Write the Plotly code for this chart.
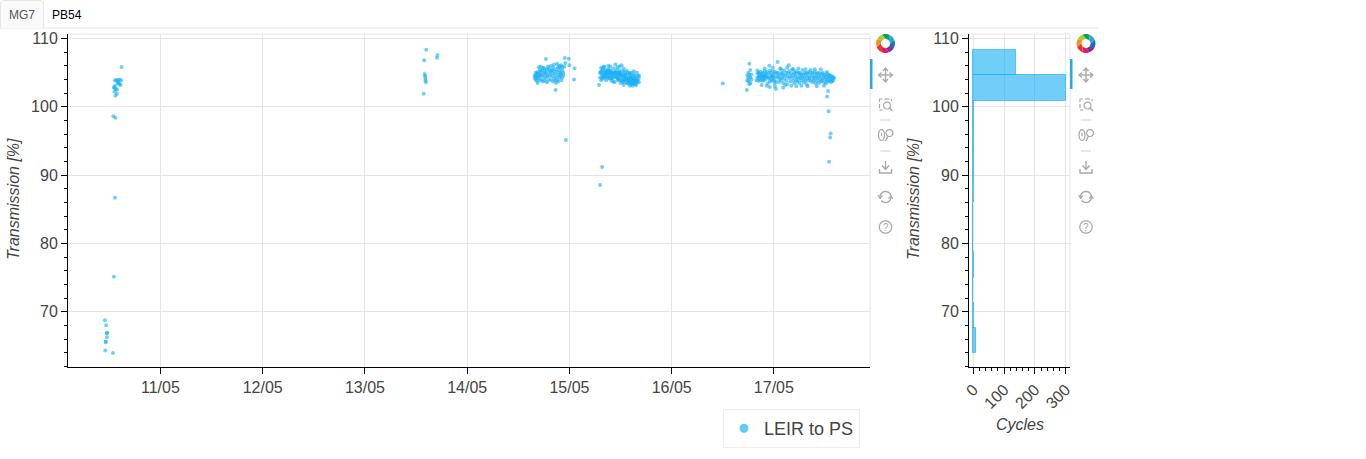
import numpy as np
import pandas as pd
import plotly.graph_objects as go

W, H = 1366, 459
BLUE = "#12ADF5"
FONT = "Liberation Sans"

# May day-of-month (fractional) and transmission [%]
early_days = [10.457,10.47,10.477,10.477,10.477,10.465,10.465,10.46,10.535,10.545,10.555,
              10.54,10.56,10.56,10.575,10.55,10.55,10.565,10.575,10.545,10.56,10.61,10.58,10.60,
              10.59,10.555,10.57,10.585,10.60,10.615,10.62]
early_pct = [68.74,68.0,66.9,66.85,66.25,65.6,65.55,64.3,63.95,75.1,86.7,
             98.6,98.4,101.6,101.9,102.2,102.7,102.6,102.5,102.9,103.1,103.2,103.6,103.3,
             103.5,103.9,103.9,103.9,103.95,103.9,105.83]
second_days = [13.60,13.58,13.585,13.588,13.59,13.593,13.596,13.575,13.71,13.705]
second_pct = [108.36,106.8,104.8,104.5,104.2,103.9,103.6,101.9,107.6,107.2]
third_days = [
 14.66,14.66,14.67,14.67,14.67,14.68,14.68,14.68,14.69,14.69,
 14.69,14.70,14.70,14.70,14.71,14.71,14.71,14.72,14.72,14.72,
 14.73,14.73,14.73,14.74,14.74,14.75,14.75,14.75,14.76,14.76,
 14.76,14.77,14.77,14.78,14.78,14.78,14.79,14.79,14.80,14.80,
 14.80,14.81,14.81,14.82,14.82,14.82,14.83,14.83,14.84,14.84,
 14.84,14.85,14.85,14.85,14.86,14.86,14.87,14.87,14.87,14.88,
 14.88,14.88,14.89,14.89,14.89,14.90,14.90,14.90,14.91,14.91,
 14.91,14.92,14.92,14.92,14.93,14.93,14.93,14.94,14.94,14.95,
 14.77,14.955,14.995,14.96,15.0,15.05,15.045,14.865,14.965]
third_pct = [
 104.6,104.2,105.0,104.0,104.5,104.8,103.8,104.3,105.1,104.5,
 103.5,104.9,104.2,105.8,105.4,103.9,104.5,105.9,104.7,105.1,
 105.3,104.0,104.6,105.6,103.7,105.0,104.4,105.7,104.8,103.8,
 105.4,104.2,105.1,104.7,105.5,103.6,105.9,104.4,105.0,103.9,
 105.6,104.6,105.3,104.0,105.1,106.0,104.5,105.4,103.7,104.9,
 105.8,104.2,105.3,106.2,103.9,104.8,105.5,103.5,104.4,106.3,
 105.1,104.0,104.7,105.8,103.7,105.3,104.3,106.0,105.0,104.5,
 105.7,103.9,104.8,106.1,105.3,104.3,105.8,105.0,104.6,105.9,
 107.0,107.15,107.05,106.4,106.1,105.65,104.0,102.45,95.15]
fourth_days = [
 15.29,15.30,15.30,15.31,15.31,15.31,15.32,15.32,15.32,15.33,
 15.33,15.33,15.34,15.34,15.34,15.35,15.35,15.35,15.36,15.36,
 15.36,15.37,15.37,15.37,15.38,15.38,15.38,15.39,15.39,15.39,
 15.40,15.40,15.40,15.41,15.41,15.41,15.42,15.42,15.42,15.43,
 15.43,15.43,15.44,15.44,15.44,15.45,15.45,15.45,15.46,15.46,
 15.46,15.47,15.47,15.47,15.48,15.48,15.48,15.49,15.49,15.49,
 15.50,15.50,15.50,15.51,15.51,15.51,15.52,15.52,15.52,15.53,
 15.53,15.53,15.54,15.54,15.54,15.55,15.55,15.55,15.56,15.56,
 15.56,15.57,15.57,15.57,15.58,15.58,15.58,15.59,15.59,15.59,
 15.60,15.60,15.60,15.61,15.61,15.61,15.62,15.62,15.62,15.63,
 15.63,15.63,15.64,15.64,15.64,15.65,15.65,15.65,15.66,15.66,
 15.67,15.67,15.68,15.68,15.68,15.32,15.30,
 15.31,15.335,15.36,15.38,15.40,15.43,15.47,15.49,15.50,15.53,
 15.56,15.59,15.61,15.63,15.66,15.53,15.59,15.62,15.65]
fourth_pct = [
 103.2,104.3,105.0,104.9,103.9,105.2,104.6,105.3,104.1,105.6,
 104.4,105.0,105.9,104.6,104.2,105.3,104.7,105.0,105.1,104.3,
 104.8,105.4,104.5,105.0,104.2,105.5,104.9,105.2,104.3,104.7,
 104.9,105.3,104.1,105.0,104.5,103.8,105.1,104.6,104.2,105.6,
 104.9,104.3,105.0,104.5,103.6,106.2,104.8,105.1,104.3,104.6,
 105.4,104.2,104.9,103.9,105.0,104.5,104.1,104.8,105.3,103.9,
 104.6,104.2,105.0,106.1,104.7,103.8,104.4,103.7,105.2,104.1,
 104.7,103.6,104.0,104.5,105.1,103.8,104.3,104.8,103.5,104.1,
 104.6,103.9,105.0,103.4,104.3,103.7,104.1,104.8,103.4,103.9,
 104.2,103.6,104.6,104.0,103.3,104.4,103.8,103.5,104.2,104.7,
 103.9,103.4,104.1,103.6,104.6,103.8,104.2,103.3,104.0,103.6,
 104.5,103.8,104.2,103.6,104.6,91.2,88.55,
 105.7,105.8,103.9,106.0,105.9,103.7,105.8,105.9,103.5,105.6,
 105.3,105.0,105.0,105.2,105.0,103.2,103.1,103.1,103.2]
fifth_days = [
 16.50,16.76,16.77,16.735,16.74,16.74,16.75,16.75,16.75,16.76,
 16.76,16.77,16.77,16.78,16.78,16.83,16.84,16.84,16.85,16.85,
 16.85,16.86,16.86,16.87,16.87,16.87,16.88,16.88,16.89,16.89,
 16.89,16.90,16.90,16.91,16.91,16.91,16.92,16.92,16.93,16.93,
 16.93,16.94,16.94,16.955,16.95,16.95,16.96,16.96,16.97,16.97,
 16.97,16.98,16.98,16.99,16.99,17.00,17.00,17.00,17.01,17.01,
 17.02,17.02,17.02,17.03,17.035,17.04,17.04,17.05,17.05,17.06,
 17.06,17.07,17.07,17.08,17.08,17.09,17.09,17.10,17.10,17.11,
 17.11,17.12,17.12,17.13,17.13,17.14,17.145,17.15,17.15,17.16,
 17.16,17.17,17.17,17.18,17.18,17.19,17.19,17.20,17.20,17.21,
 17.21,17.22,17.22,17.23,17.23,17.24,17.24,17.25,17.25,17.26,
 17.26,17.27,17.27,17.28,17.28,17.29,17.29,17.30,17.30,17.31,
 17.31,17.32,17.32,17.33,17.33,17.34,17.34,17.35,17.35,17.36,
 17.36,17.37,17.37,17.38,17.38,17.39,17.39,17.40,17.40,17.41,
 17.41,17.42,17.42,17.43,17.43,17.44,17.44,17.45,17.45,17.46,
 17.46,17.47,17.47,17.48,17.48,17.49,17.49,17.50,17.50,17.51,
 17.51,17.52,17.52,17.53,17.53,17.54,17.54,17.55,17.55,17.56,
 17.56,17.57,17.57,17.58,17.58,17.59,17.53,17.52,17.535,17.555,
 17.55,17.54,
 16.84,16.88,16.91,16.96,16.99,17.01,17.07,17.09,17.13,17.19,
 17.22,17.24,17.27,17.31,17.33,17.40,17.42,17.46,17.49,17.52]
fifth_pct = [
 103.4,106.3,105.4,102.45,104.6,103.9,105.0,104.2,103.7,104.7,
 103.3,104.3,103.5,104.0,104.7,103.9,104.9,104.3,105.0,104.4,
 103.8,104.7,104.1,105.1,104.5,103.9,104.8,104.2,105.0,104.4,
 103.8,104.6,104.1,105.2,104.5,103.9,104.8,104.2,103.1,104.6,
 105.1,104.3,103.4,106.0,104.9,104.2,105.3,103.7,104.6,104.1,
 105.0,104.4,103.8,105.2,104.5,103.9,104.8,104.2,105.1,103.5,
 102.6,104.4,103.7,104.9,106.55,104.3,105.0,103.6,104.6,105.6,
 104.1,104.8,103.9,105.0,104.3,103.5,104.7,105.3,104.1,103.2,
 104.6,105.0,103.8,104.4,103.3,104.9,106.1,104.2,105.2,103.7,
 104.5,103.1,104.9,105.5,104.2,103.8,104.6,105.0,103.4,104.3,
 104.8,103.9,105.2,104.4,103.7,104.9,104.1,105.0,103.5,104.6,
 104.2,103.9,104.8,105.4,104.3,103.6,104.7,105.0,104.1,103.8,
 104.5,103.3,104.9,104.2,105.0,103.9,104.6,104.2,105.1,105.4,
 103.8,104.4,104.8,103.6,105.0,104.2,103.9,104.6,105.1,103.4,
 104.3,104.8,103.8,104.2,105.0,103.5,104.5,104.9,104.0,103.7,
 104.4,104.8,103.9,105.0,104.2,103.6,104.5,104.0,104.7,103.4,
 104.3,104.8,103.9,104.4,103.7,104.7,104.1,103.8,104.6,104.2,
 103.6,104.5,103.9,104.3,103.8,104.2,102.3,101.5,99.35,96.1,
 95.5,91.95,
 105.3,103.2,105.6,102.9,105.7,103.0,105.5,102.8,105.7,105.5,
 103.0,105.6,103.1,105.5,103.0,105.5,103.0,105.5,103.1,105.1]

# Histogram of the transmission values
bin_edges = [63.9,67.6,71.3,75.0,78.7,82.4,86.1,89.8,93.5,97.2,100.9,104.6,108.3]
bin_counts = [9,2,0,1,0,0,2,2,3,3,302,139]

day_ticks_label = "%d/%m"
series_name = "LEIR to PS"
tab_labels = ["MG7", "PB54"]
tx_title = "Transmission [%]"
cy_title = "Cycles"


def to_dates(days):
    return [pd.Timestamp("2023-05-01") + pd.to_timedelta(d - 1, "D") for d in days]


def px(x):
    return x / W


def py(y):
    return 1 - y / H


def path_of(points, close=False):
    s = "M" + " L".join(f"{px(x):.5f},{py(y):.5f}" for x, y in points)
    return s + (" Z" if close else "")


all_days = early_days + second_days + third_days + fourth_days + fifth_days
all_pct = early_pct + second_pct + third_pct + fourth_pct + fifth_pct

fig = go.Figure()
fig.add_trace(go.Scatter(
    x=to_dates(all_days), y=all_pct, mode="markers", showlegend=False, xaxis="x", yaxis="y",
    marker=dict(size=4, color=BLUE, opacity=0.6, line=dict(width=0)),
))
fig.add_trace(go.Scatter(
    x=[None], y=[None], mode="markers", name=series_name, showlegend=True, xaxis="x", yaxis="y",
    marker=dict(size=9, color=BLUE, opacity=0.65, line=dict(width=0)),
))
centers = [(a + b) / 2 for a, b in zip(bin_edges[:-1], bin_edges[1:])]
widths = [b - a for a, b in zip(bin_edges[:-1], bin_edges[1:])]
fig.add_trace(go.Bar(
    x=bin_counts, y=centers, width=widths, orientation="h", showlegend=False, xaxis="x2", yaxis="y2",
    marker=dict(color="rgba(18,173,245,0.6)", line=dict(color="rgba(18,173,245,0.6)", width=1)),
))

axis_common = dict(
    showline=True, linecolor="black", linewidth=1, ticks="outside", tickcolor="black", ticklen=6,
    tickwidth=1, showgrid=True, gridcolor="#e5e5e5", gridwidth=1, zeroline=False,
    tickfont=dict(family=FONT, size=16, color="#444444"),
)
y_range = [61.9, 110.66]
y_minor = dict(ticks="outside", dtick=2, ticklen=3, tickcolor="black", tickwidth=1, showgrid=False)
title_font = dict(family=FONT, size=16, color="#444444", style="italic")

fig.update_layout(
    template="none", width=W, height=H, margin=dict(l=0, r=0, t=0, b=0), autosize=False,
    paper_bgcolor="white", plot_bgcolor="white", bargap=0, barmode="overlay",
    xaxis=dict(axis_common, domain=[px(68), px(870)], anchor="y", type="date",
               range=[to_dates([10.096])[0], to_dates([17.94])[0]],
               dtick=86400000, tick0="2023-05-11", tickformat=day_ticks_label),
    yaxis=dict(axis_common, domain=[py(367), py(34)], anchor="x", range=y_range, dtick=10, tick0=0,
               minor=y_minor),
    xaxis2=dict(axis_common, domain=[px(969), px(1070)], anchor="y2", range=[-14, 314], dtick=100, tick0=0,
                tickangle=-45,
                minor=dict(ticks="outside", dtick=20, ticklen=3, tickcolor="black", tickwidth=1, showgrid=False)),
    yaxis2=dict(axis_common, domain=[py(367), py(34)], anchor="x2", range=y_range, dtick=10, tick0=0,
                minor=y_minor),
    legend=dict(x=px(723), y=py(409), xanchor="left", yanchor="top", bordercolor="#eeeeee", borderwidth=1,
                bgcolor="white", font=dict(family=FONT, size=18, color="#444444"), itemwidth=30,
                tracegroupgap=0),
    showlegend=True,
)

ann = [
    dict(x=px(14), y=py(199), text=tx_title, textangle=-90, font=title_font),
    dict(x=px(914), y=py(199), text=tx_title, textangle=-90, font=title_font),
    dict(x=px(1020), y=py(424), text=cy_title, font=title_font),
    dict(x=px(22), y=py(14.5), text=tab_labels[0], font=dict(family=FONT, size=12, color="#555555")),
    dict(x=px(67), y=py(14.5), text=tab_labels[1], font=dict(family=FONT, size=12, color="#000000")),
]
for a in ann:
    a.update(xref="paper", yref="paper", showarrow=False, xanchor="center", yanchor="middle")
    fig.add_annotation(**a)

# page furniture
fig.add_shape(type="line", xref="paper", yref="paper", x0=0, x1=px(1098), y0=py(28), y1=py(28),
              line=dict(color="#e6e6e6", width=1))
fig.add_shape(type="path", xref="paper", yref="paper", fillcolor="#fafafa",
              line=dict(color="#e6e6e6", width=1),
              path=path_of([(0.5, 28), (0.5, 3), (3, 0.5), (41, 0.5), (43.5, 3), (43.5, 28)]))
for l, r in ((68, 870), (969, 1070)):
    fig.add_shape(type="line", xref="paper", yref="paper", x0=px(l), x1=px(r), y0=py(34), y1=py(34),
                  line=dict(color="#e5e5e5", width=1))
    fig.add_shape(type="line", xref="paper", yref="paper", x0=px(r), x1=px(r), y0=py(34), y1=py(367),
                  line=dict(color="#e5e5e5", width=1))

GRAY = "#a8a8a8"
LOGO = ["#0f9d58", "#2ba6e0", "#1b6fc2", "#8e2a8e", "#e5186f", "#e8362d", "#f7941d", "#a6ce39"]


def stroke(pts, w=1.4, color=GRAY, close=False):
    fig.add_shape(type="path", xref="paper", yref="paper", path=path_of(pts, close),
                  line=dict(color=color, width=w))


def arc(cx, cy, r, a0, a1, n=16, ry=None):
    ry = r if ry is None else ry
    ts = np.radians(np.linspace(a0, a1, n))
    return [(cx + r * np.cos(t), cy + ry * np.sin(t)) for t in ts]


def toolbar(cx, bar_x):
    fig.add_shape(type="rect", xref="paper", yref="paper", x0=px(bar_x), x1=px(bar_x + 2.5), y0=py(59), y1=py(89),
                  fillcolor="#26aae1", line=dict(width=0))
    for i, c in enumerate(LOGO):
        a0 = -112 + i * 45
        pts = arc(cx, 43.5, 9.5, a0, a0 + 45, 4) + arc(cx, 43.5, 4.5, a0 + 70, a0 + 25, 4)
        fig.add_shape(type="path", xref="paper", yref="paper", path=path_of(pts, True),
                      fillcolor=c, line=dict(width=0))
    # pan
    y = 75
    stroke([(cx - 6, y), (cx + 6, y)]); stroke([(cx, y - 6), (cx, y + 6)])
    for sx in (-1, 1):
        stroke([(cx + sx * 4, y - 2.5), (cx + sx * 7, y), (cx + sx * 4, y + 2.5)])
        stroke([(cx - 2.5, y + sx * 4), (cx, y + sx * 7), (cx + 2.5, y + sx * 4)])
    # box zoom
    y = 104
    for seg in ([(cx - 6, y - 2), (cx - 6, y - 5), (cx - 3, y - 5)], [(cx - 1, y - 5), (cx + 4, y - 5)],
                [(cx - 6, y), (cx - 6, y + 4)], [(cx - 6, y + 6), (cx - 3, y + 6)], [(cx + 6, y - 5), (cx + 6, y - 3)]):
        stroke(seg, 1.2)
    stroke(arc(cx + 1.5, y + 1.5, 3.5, 0, 360), 1.2)
    stroke([(cx + 4, y + 4), (cx + 7, y + 7)], 1.4)
    fig.add_shape(type="line", xref="paper", yref="paper", x0=px(cx - 5), x1=px(cx + 5), y0=py(120), y1=py(120),
                  line=dict(color="#cfcfcf", width=1))
    # wheel zoom
    y = 135
    stroke(arc(cx - 4, y, 3, 0, 360, 20, 5.5), 1.2)
    stroke([(cx - 4, y - 2), (cx - 4, y + 1)], 1.2)
    stroke(arc(cx + 4, y - 2, 3.5, 0, 360), 1.2)
    stroke([(cx + 2.5, y + 1), (cx, y + 6)], 1.4)
    fig.add_shape(type="line", xref="paper", yref="paper", x0=px(cx - 5), x1=px(cx + 5), y0=py(151), y1=py(151),
                  line=dict(color="#cfcfcf", width=1))
    # save
    y = 167
    stroke([(cx, y - 6), (cx, y + 2)])
    stroke([(cx - 3.5, y - 1.5), (cx, y + 2.5), (cx + 3.5, y - 1.5)])
    stroke([(cx - 6, y + 2), (cx - 6, y + 6), (cx + 6, y + 6), (cx + 6, y + 2)])
    # reset
    y = 197
    stroke(arc(cx, y, 5.5, -40, 140), 1.4)
    stroke(arc(cx, y, 5.5, 160, 320), 1.4)
    stroke([(cx - 7.5, y - 2), (cx - 5.5, y + 1), (cx - 3, y - 1.5)], 1.2)
    stroke([(cx + 3, y + 1.5), (cx + 5.5, y - 1), (cx + 7.5, y + 2)], 1.2)
    # help
    y = 227
    stroke(arc(cx, y, 6.2, 0, 360, 28), 1.2)
    fig.add_annotation(x=px(cx), y=py(y), xref="paper", yref="paper", text="?", showarrow=False,
                       font=dict(family=FONT, size=10, color=GRAY), xanchor="center", yanchor="middle")


toolbar(885.5, 870)
toolbar(1086, 1070)

fig.write_html("out.html", config={"displayModeBar": False},
               post_script="document.body.style.margin='0';document.body.style.overflow='hidden';")
